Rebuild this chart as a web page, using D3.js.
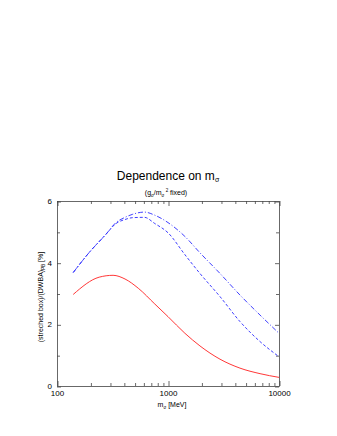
<!DOCTYPE html>
<html>
<head>
<meta charset="utf-8">
<script src="https://cdn.jsdelivr.net/npm/d3@7"></script>
<style>
  body { margin: 0; background: #fff; }
  svg { display: block; font-family: "Liberation Sans", Arial, sans-serif; }
  text { fill: #000; }
</style>
</head>
<body>
<svg id="chart"></svg>
<script>
// sigma mass dependence of the stretched box correction

const width = 337;
const height = 436;
const margin = { top: 201, right: 58, bottom: 50, left: 57 };

const blueMass = [140, 195, 276, 340, 410, 481, 613, 760, 1000, 1420, 1940, 2940, 4450, 6750, 10000];
const dashDotValues = [3.68, 4.33, 4.92, 5.30, 5.47, 5.57, 5.64, 5.54, 5.30, 4.85, 4.32, 3.65, 2.95, 2.30, 1.71];
const dashedValues = [3.68, 4.33, 4.92, 5.27, 5.40, 5.46, 5.47, 5.27, 4.97, 4.26, 3.65, 2.90, 2.09, 1.44, 0.95];

const redMass = [140, 240, 320, 410, 540, 760, 1000, 1420, 1940, 2940, 4450, 6750, 10000];
const solidValues = [2.97, 3.53, 3.59, 3.47, 3.17, 2.66, 2.25, 1.71, 1.30, 0.87, 0.58, 0.40, 0.28];

const xMajorTicks = [100, 1000, 10000];
const xMinorTicks = [200, 300, 400, 500, 600, 700, 800, 900, 2000, 3000, 4000, 5000, 6000, 7000, 8000, 9000];
const yMajorTicks = [0, 2, 4, 6];
const yMinorTicks = [1, 3, 5];

const plotW = width - margin.left - margin.right;
const plotH = height - margin.top - margin.bottom;

const svg = d3.select("#chart").attr("width", width).attr("height", height);

const xScale = d3.scaleLog().domain([100, 10000]).range([margin.left, margin.left + plotW]);
const yScale = d3.scaleLinear().domain([0, 6]).range([margin.top + plotH, margin.top]);

// frame
svg.append("rect")
  .attr("x", margin.left + 0.5)
  .attr("y", margin.top + 0.5)
  .attr("width", plotW)
  .attr("height", plotH)
  .attr("fill", "none")
  .attr("stroke", "#444")
  .attr("stroke-width", 0.8);

// inward ticks on all four sides
const tickGroup = (axis, transform) => {
  const g = svg.append("g").attr("transform", transform).call(axis);
  g.select(".domain").remove();
  g.selectAll("line").attr("stroke", "#444").attr("stroke-width", 0.8);
  return g;
};

const bottomY = margin.top + plotH;
const rightX = margin.left + plotW;

tickGroup(d3.axisBottom(xScale).tickValues(xMajorTicks).tickSize(-5).tickFormat(""), `translate(0.5,${bottomY})`);
tickGroup(d3.axisBottom(xScale).tickValues(xMinorTicks).tickSize(-3).tickFormat(""), `translate(0.5,${bottomY})`);
tickGroup(d3.axisTop(xScale).tickValues(xMajorTicks).tickSize(-5).tickFormat(""), `translate(0.5,${margin.top})`);
tickGroup(d3.axisTop(xScale).tickValues(xMinorTicks).tickSize(-3).tickFormat(""), `translate(0.5,${margin.top})`);
tickGroup(d3.axisLeft(yScale).tickValues(yMajorTicks).tickSize(-4).tickFormat(""), `translate(${margin.left},0.5)`);
tickGroup(d3.axisLeft(yScale).tickValues(yMinorTicks).tickSize(-3).tickFormat(""), `translate(${margin.left},0.5)`);
tickGroup(d3.axisRight(yScale).tickValues(yMajorTicks).tickSize(-4).tickFormat(""), `translate(${rightX},0.5)`);
tickGroup(d3.axisRight(yScale).tickValues(yMinorTicks).tickSize(-3).tickFormat(""), `translate(${rightX},0.5)`);

// tick labels
const xLabels = svg.append("g")
  .attr("transform", `translate(0,${bottomY})`)
  .call(d3.axisBottom(xScale).tickValues(xMajorTicks).tickSize(0).tickPadding(4).tickFormat(d3.format("d")));
xLabels.select(".domain").remove();
xLabels.selectAll("text").attr("font-size", 8).attr("fill", "#000").attr("font-family", "Liberation Sans, Arial, sans-serif");

const yLabels = svg.append("g")
  .attr("transform", `translate(${margin.left},0)`)
  .call(d3.axisLeft(yScale).tickValues(yMajorTicks).tickSize(0).tickPadding(5).tickFormat(d3.format("d")));
yLabels.select(".domain").remove();
yLabels.selectAll("text").attr("font-size", 8).attr("fill", "#000").attr("font-family", "Liberation Sans, Arial, sans-serif");

// curves
const series = [
  { mass: blueMass, values: dashDotValues, color: "#2a2aff", dash: "5,2,1,2" },
  { mass: blueMass, values: dashedValues, color: "#2a2aff", dash: "3,2" },
  { mass: redMass, values: solidValues, color: "#ff2020", dash: null },
];

series.forEach((s) => {
  const line = d3.line()
    .x((d, i) => xScale(s.mass[i]))
    .y((d) => yScale(d))
    .curve(d3.curveMonotoneX);
  svg.append("path")
    .datum(s.values)
    .attr("d", line)
    .attr("fill", "none")
    .attr("stroke", s.color)
    .attr("stroke-width", 0.9)
    .attr("stroke-dasharray", s.dash);
});

// titles
const title = svg.append("text")
  .attr("x", 168)
  .attr("y", 180)
  .attr("text-anchor", "middle")
  .attr("font-size", 12);
title.append("tspan").text("Dependence on m");
title.append("tspan").attr("font-size", 7).attr("dy", 2).text("σ");

const subtitle = svg.append("text")
  .attr("x", 166)
  .attr("y", 195)
  .attr("text-anchor", "middle")
  .attr("font-size", 7);
subtitle.append("tspan").text("(g");
subtitle.append("tspan").attr("font-size", 4.5).attr("dy", 1.5).text("σ");
subtitle.append("tspan").attr("dy", -1.5).text("/m");
subtitle.append("tspan").attr("font-size", 4.5).attr("dy", 1.5).text("σ");
subtitle.append("tspan").attr("font-size", 4.5).attr("dy", -4.5).text(" 2");
subtitle.append("tspan").attr("dy", 3).text(" fixed)");

const xTitle = svg.append("text")
  .attr("x", 172)
  .attr("y", 407)
  .attr("text-anchor", "middle")
  .attr("font-size", 7);
xTitle.append("tspan").text("m");
xTitle.append("tspan").attr("font-size", 4.5).attr("dy", 1.5).text("σ");
xTitle.append("tspan").attr("dy", -1.5).text(" [MeV]");

const yTitle = svg.append("text")
  .attr("transform", "translate(43,297) rotate(-90)")
  .attr("text-anchor", "middle")
  .attr("font-size", 7);
yTitle.append("tspan").text("(streched box)/(DWBA)");
yTitle.append("tspan").attr("font-size", 4.5).attr("dy", 1.5).text("PB");
yTitle.append("tspan").attr("dy", -1.5).text(" [%]");
</script>
</body>
</html>
